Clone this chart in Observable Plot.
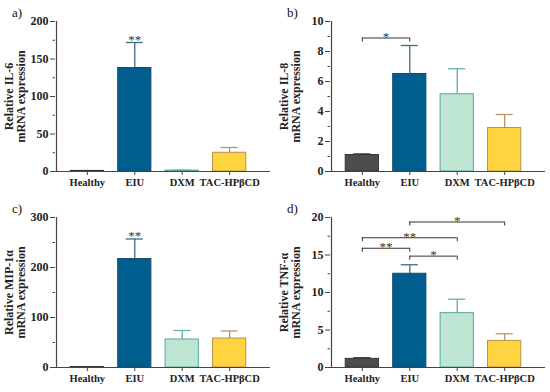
<!DOCTYPE html>
<html><head><meta charset="utf-8">
<script src="https://cdn.jsdelivr.net/npm/d3@7"></script>
<script src="https://cdn.jsdelivr.net/npm/@observablehq/plot@0.6"></script>
<style>
body{margin:0;background:#fff;}
#wrap{position:relative;width:550px;height:392px;font-family:"Liberation Serif",serif;}
.panel{position:absolute;width:275px;height:196px;}
.tag{position:absolute;font-size:13px;color:#111;}
</style></head><body><div id="wrap"></div>
<script>
const groups = ["Healthy", "EIU", "DXM", "TAC-HPβCD"];
const fills = ["#4d4d4d", "#005e8e", "#bfe6d3", "#ffd440"];
const strokes = ["#333333", "#1d4c6b", "#5aa59c", "#b5914a"];
const errColors = ["#333333", "#3f6f87", "#6aafaa", "#b89a60"];

const il6Mean = [0.8, 138, 1.2, 25];
const il6Err = [0.3, 34, 0.6, 7];
const il8Mean = [1.1, 6.5, 5.15, 2.9];
const il8Err = [0.07, 1.9, 1.7, 0.9];
const mipMean = [1, 217, 56, 58];
const mipErr = [0.5, 40, 18, 15];
const tnfMean = [1.15, 12.5, 7.25, 3.55];
const tnfErr = [0.15, 1.2, 1.85, 0.95];

const il6Stars = [{g: 1, label: "**"}];
const mipStars = [{g: 1, label: "**"}];
const il8Brackets = [{from: 0, to: 1, y: 8.9, label: "*"}];
const tnfBrackets = [
  {from: 0, to: 1, y: 15.9, label: "**"},
  {from: 0, to: 2, y: 17.3, label: "**"},
  {from: 1, to: 2, y: 14.85, label: "*"},
  {from: 1, to: 3, y: 19.4, label: "*"}
];

const panels = [
  {tag: "a)", left: 0, top: 0, title: "Relative IL-6\nmRNA expression", max: 200, step: 50, mean: il6Mean, err: il6Err, stars: il6Stars, brackets: []},
  {tag: "b)", left: 275, top: 0, title: "Relative IL-8\nmRNA expression", max: 10, step: 2, mean: il8Mean, err: il8Err, stars: [], brackets: il8Brackets},
  {tag: "c)", left: 0, top: 196, title: "Relative MIP-1α\nmRNA expression", max: 300, step: 100, mean: mipMean, err: mipErr, stars: mipStars, brackets: []},
  {tag: "d)", left: 275, top: 196, title: "Relative TNF-α\nmRNA expression", max: 20, step: 5, mean: tnfMean, err: tnfErr, stars: [], brackets: tnfBrackets}
];

const wrap = document.getElementById("wrap");
const font = "Liberation Serif, serif";
const x0 = -0.65, x1 = 3.65, half = 0.35, cap = 0.18;

for (const p of panels) {
  const rows = groups.map((g, i) => ({i, g, m: p.mean[i], top: p.mean[i] + p.err[i]}));
  const drop = p.max * 0.027;
  const majors = d3.range(0, p.max + p.step / 2, p.step);
  const minors = d3.range(p.step / 2, p.max, p.step);
  const legs = p.brackets.flatMap(b => [{x: b.from, y: b.y}, {x: b.to, y: b.y}]);
  const plot = Plot.plot({
    width: 275, height: 196,
    marginLeft: 55, marginRight: 5, marginTop: 21, marginBottom: 25,
    style: {fontFamily: font, background: "transparent", color: "#222"},
    x: {domain: [x0, x1], range: [56, 260]},
    y: {domain: [0, p.max]},
    marks: [
      Plot.ruleX(rows, {x: "i", y1: "m", y2: "top", stroke: d => errColors[d.i], strokeWidth: 1.3}),
      Plot.ruleY(rows, {y: "top", x1: d => d.i - cap, x2: d => d.i + cap, stroke: d => errColors[d.i], strokeWidth: 1.3}),
      Plot.rectY(rows, {x1: d => d.i - half, x2: d => d.i + half, y1: 0, y2: "m", fill: d => fills[d.i], stroke: d => strokes[d.i], strokeWidth: 1}),
      Plot.ruleY([0], {stroke: "#444", strokeWidth: 1.2}),
      Plot.ruleX([x0], {y1: 0, y2: p.max, stroke: "#444", strokeWidth: 1.2}),
      Plot.axisY({ticks: majors, tickSize: 5, tickPadding: 2, fontSize: 12, fontWeight: "bold", label: null, stroke: "#444"}),
      Plot.axisY({ticks: minors, tickSize: 2.5, tickFormat: () => "", label: null, stroke: "#444"}),
      Plot.axisX({ticks: [0, 1, 2, 3], tickFormat: i => groups[i], tickSize: 4, tickPadding: 3, fontSize: 10.5, fontWeight: "bold", label: null, stroke: "#444"}),
      Plot.text([p.title], {text: d => d, frameAnchor: "left", dx: -40, rotate: -90, lineHeight: 1.0, fontSize: 12, fontWeight: "bold", textAnchor: "middle", lineAnchor: "middle", fill: "#222"}),
      Plot.text(p.stars, {x: "g", y: d => p.mean[d.g] + p.err[d.g], text: "label", lineAnchor: "bottom", dy: 1, fontSize: 13, fill: "#333"}),
      Plot.ruleY(p.brackets, {y: "y", x1: "from", x2: "to", stroke: "#333", strokeWidth: 1}),
      Plot.ruleX(legs, {x: "x", y1: "y", y2: d => d.y - drop, stroke: "#333", strokeWidth: 1}),
      Plot.text(p.brackets, {x: d => (d.from + d.to) / 2, y: "y", text: "label", lineAnchor: "bottom", dy: 3, fontSize: 13, fill: "#333"})
    ]
  });
  const div = document.createElement("div");
  div.className = "panel";
  div.style.left = p.left + "px";
  div.style.top = p.top + "px";
  div.appendChild(plot);
  const tag = document.createElement("div");
  tag.className = "tag";
  tag.textContent = p.tag;
  tag.style.left = "12px";
  tag.style.top = "5px";
  div.appendChild(tag);
  wrap.appendChild(div);
}
</script>
</body></html>
